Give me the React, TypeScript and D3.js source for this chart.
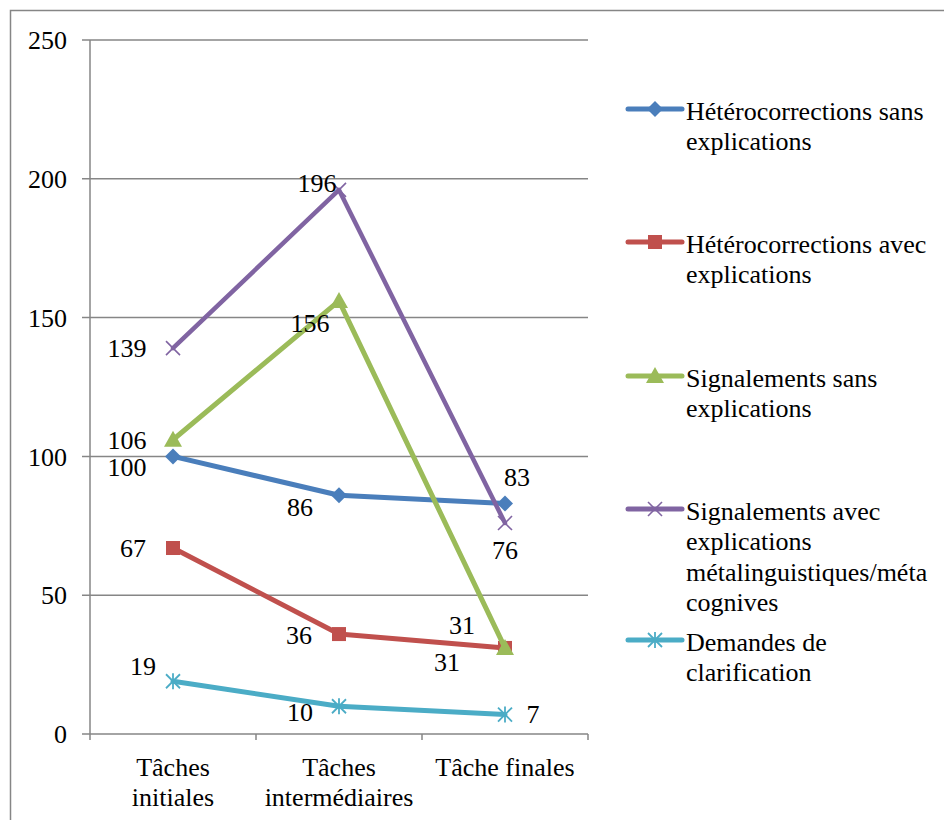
import React from "react";
import * as d3 from "d3";

const categories = ["Tâches initiales", "Tâches intermédiaires", "Tâche finales"];
const categoryLines = [["Tâches", "initiales"], ["Tâches", "intermédiaires"], ["Tâche finales"]];
const seriesNames = [
  "Hétérocorrections sans explications",
  "Hétérocorrections avec explications",
  "Signalements sans explications",
  "Signalements avec explications métalinguistiques/métacognives",
  "Demandes de clarification",
];
const legendLines = [
  ["Hétérocorrections sans", "explications"],
  ["Hétérocorrections avec", "explications"],
  ["Signalements sans", "explications"],
  ["Signalements avec", "explications", "métalinguistiques/méta", "cognives"],
  ["Demandes de", "clarification"],
];
const heteroSans = [100, 86, 83];
const heteroAvec = [67, 36, 31];
const signSans = [106, 156, 31];
const signAvec = [139, 196, 76];
const demandes = [19, 10, 7];
const yTicks = [0, 50, 100, 150, 200, 250];

const seriesValues = [heteroSans, heteroAvec, signSans, signAvec, demandes];
const colors = ["#4A7EBB", "#C0504D", "#9BBB59", "#8064A2", "#4BACC6"];
const markers = ["diamond", "square", "triangle", "x", "star"];
// label offsets (dx, dy) relative to each point
const labelOffsets = [
  [[-46, 10], [-39, 12], [12, -27]],
  [[-40, 0], [-40, 1], [-43, -23]],
  [[-46, 0], [-29, 22], [-58, 14]],
  [[-46, 0], [-22, -7], [0, 27]],
  [[-30, -15], [-39, 6], [28, -1]],
];
const legendY = [109, 242, 376, 509, 640];

const FONT = '"Liberation Serif", "DejaVu Serif", serif';
const FS = 26;
const GRID = "#868686";

function Marker({ type, x, y, color }: { type: string; x: number; y: number; color: string }) {
  if (type === "diamond") {
    const r = 8;
    return <path d={`M${x},${y - r}L${x + r},${y}L${x},${y + r}L${x - r},${y}Z`} fill={color} />;
  }
  if (type === "square") {
    const s = 7;
    return <rect x={x - s} y={y - s} width={2 * s} height={2 * s} fill={color} />;
  }
  if (type === "triangle") {
    return <path d={`M${x},${y - 9}L${x + 9},${y + 7}L${x - 9},${y + 7}Z`} fill={color} />;
  }
  if (type === "x") {
    const r = 7;
    return (
      <g stroke={color} strokeWidth={1.6}>
        <line x1={x - r} y1={y - r} x2={x + r} y2={y + r} />
        <line x1={x - r} y1={y + r} x2={x + r} y2={y - r} />
      </g>
    );
  }
  const r = 7;
  return (
    <g stroke={color} strokeWidth={1.8}>
      <line x1={x - r} y1={y - r} x2={x + r} y2={y + r} />
      <line x1={x - r} y1={y + r} x2={x + r} y2={y - r} />
      <line x1={x} y1={y - r - 1} x2={x} y2={y + r + 1} />
    </g>
  );
}

export default function App() {
  const W = 944;
  const H = 820;
  const x = d3.scaleBand<string>().domain(categories).range([90, 588]).padding(0);
  const y = d3.scaleLinear().domain([0, 250]).range([734, 40]);
  const cx = (c: string) => (x(c) as number) + x.bandwidth() / 2;
  const line = d3
    .line<number>()
    .x((_, i) => cx(categories[i]))
    .y((v) => y(v));
  const bandEdges = [...categories.map((c) => x(c) as number), 588];
  const textStyle = { fontFamily: FONT, fontSize: FS };

  return (
    <svg
      width={W}
      height={H}
      style={{ position: "absolute", left: 0, top: 0, background: "#fff", fontFamily: FONT, fontSize: FS }}
    >
      <rect x={0} y={0} width={W} height={H} fill="#fff" />
      <rect x={10.5} y={10.5} width={1000} height={1000} fill="none" stroke={GRID} strokeWidth={1.5} />
      {yTicks.map((t) => (
        <g key={t}>
          <line x1={82} x2={588} y1={y(t)} y2={y(t)} stroke={GRID} strokeWidth={1.5} />
          <text x={67} y={y(t)} dy="0.35em" textAnchor="end" fill="#000" style={textStyle}>
            {t}
          </text>
        </g>
      ))}
      <line x1={90} x2={90} y1={y(250)} y2={y(0)} stroke={GRID} strokeWidth={1.5} />
      {bandEdges.map((e, i) => (
        <line key={i} x1={e} x2={e} y1={y(0)} y2={y(0) + 6} stroke={GRID} strokeWidth={1.5} />
      ))}
      {categories.map((c, i) => (
        <text key={c} x={cx(c)} textAnchor="middle" fill="#000" style={textStyle}>
          {categoryLines[i].map((l, j) => (
            <tspan key={j} x={cx(c)} y={767 + j * 30} dy="0.35em">
              {l}
            </tspan>
          ))}
        </text>
      ))}
      {seriesValues.map((vals, s) => (
        <g key={seriesNames[s]}>
          <path
            d={line(vals) as string}
            fill="none"
            stroke={colors[s]}
            strokeWidth={s === 3 ? 4.5 : 5}
            strokeLinejoin="round"
            strokeLinecap="round"
          />
          {vals.map((v, i) => (
            <Marker key={i} type={markers[s]} x={cx(categories[i])} y={y(v)} color={colors[s]} />
          ))}
        </g>
      ))}
      {seriesValues.map((vals, s) =>
        vals.map((v, i) => (
          <text
            key={`${s}-${i}`}
            x={cx(categories[i]) + labelOffsets[s][i][0]}
            y={y(v) + labelOffsets[s][i][1]}
            dy="0.35em"
            textAnchor="middle"
            fill="#000"
            style={textStyle}
          >
            {v}
          </text>
        ))
      )}
      {seriesNames.map((n, s) => (
        <g key={n}>
          <line x1={628} x2={682} y1={legendY[s]} y2={legendY[s]} stroke={colors[s]} strokeWidth={5} strokeLinecap="round" />
          <Marker type={markers[s]} x={655} y={legendY[s]} color={colors[s]} />
          <text fill="#000" style={textStyle}>
            {legendLines[s].map((l, j) => (
              <tspan key={j} x={686} y={legendY[s] + 2 + j * 30.3} dy="0.35em">
                {l}
              </tspan>
            ))}
          </text>
        </g>
      ))}
    </svg>
  );
}
